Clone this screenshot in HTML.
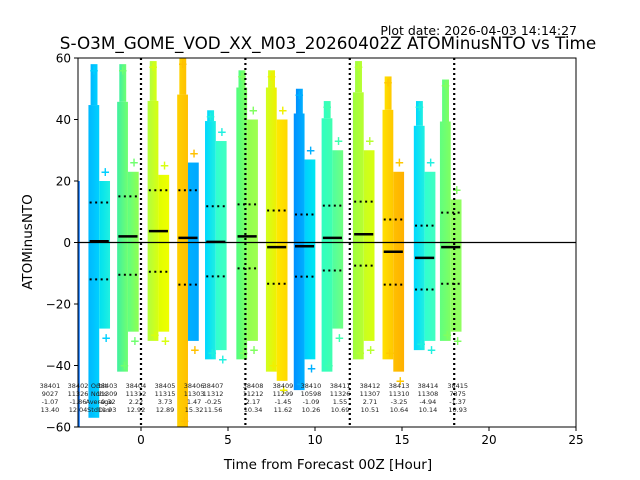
<!DOCTYPE html>
<html><head><meta charset="utf-8">
<style>
body{margin:0;background:#fff;}
svg{display:block;font-family:"DejaVu Sans","Liberation Sans",sans-serif;}
</style></head>
<body>
<svg id="chart" width="640" height="480" viewBox="0 0 640 480" xmlns="http://www.w3.org/2000/svg">
<text x="577" y="35" text-anchor="end" font-size="12.5">Plot date: 2026-04-03 14:14:27</text>
<text x="328" y="49" text-anchor="middle" font-size="16.8">S-O3M_GOME_VOD_XX_M03_20260402Z ATOMinusNTO vs Time</text>
<text x="328" y="469" text-anchor="middle" font-size="13.5">Time from Forecast 00Z [Hour]</text>
<text transform="translate(32,242) rotate(-90)" text-anchor="middle" font-size="13.5">ATOMinusNTO</text>
<defs id="defs"></defs>
<g id="plot"></g>
<g id="axes"></g>
</svg>
<script>
const orbits=["38401","38402","38403","38404","38405","38406","38408","38409","38410","38412","38413","38414","38415"];
const centers=[-2.4,-0.75,1.0,2.7,4.3,6.1,7.8,9.4,11.0,12.8,14.5,16.3,17.8];
const meanLine=[0.4,2.0,3.7,1.5,0.2,2.0,-1.5,-1.2,1.5,2.7,-3.0,-5.0,-1.5];
const upperDot=[13,15,17,17,11.8,12.4,10.4,9.1,12.0,13.3,7.5,5.5,9.7];
const lowerDot=[-12,-10.5,-9.5,-13.7,-11,-8.4,-13.4,-11.1,-9.1,-7.5,-13.7,-15.3,-13.4];
const leftTop=[58,58,59,60,43,56,56,50,46,59,54,46,53];
const leftBot=[-57,-42,-32,-60,-38,-38,-42,-48,-42,-38,-38,-35,-32];
const rightTop=[20,23,22,26,33,40,40,27,30,30,23,23,14];
const rightBot=[-28,-29,-29,-32,-35,-32,-45,-38,-28,-32,-42,-32,-29];
const colL1=["#00b8ff","#40f0a0","#b0ff40","#ffd000","#00d8ff","#50ff80","#d0ff20","#0090ff","#30ffc0","#a0ff40","#ffe000","#00d8ff","#60ff80"];
const colL2=["#00d0ff","#70ff70","#d8ff10","#ffc000","#20f0e0","#80ff60","#f0f000","#00b0ff","#40ffb0","#b8ff30","#ffc800","#20f0e0","#80ff60"];
const colR1=["#00e0f0","#60ff80","#e0ff00","#00b0ff","#30ffd0","#90ff50","#ffe800","#00d0ff","#50ffa0","#c8ff20","#ffc000","#30ffd0","#90ff60"];
const colR2=["#20f0e0","#90ff50","#f0ff00","#00a8ff","#40ffc0","#a0ff50","#ffd800","#00e8f0","#70ff80","#d8ff10","#ffb000","#40ffc0","#90ff60"];
const annOrbit=["38401","38402","38403","38404","38405","38406","38407","38408","38409","38410","38411","38412","38413","38414","38415"];
const annNobs=["9027","11326","11309","11312","11315","11303","11312","11212","11299","10598","11326","11307","11310","11308","7375"];
const annAvg=["-1.07","-1.86","-0.32","2.22","3.73","1.47","-0.25","2.17","-1.45","-1.09","1.55","2.71","-3.25","-4.94","-1.37"];
const annStd=["13.40","12.04","11.93","12.92","12.89","15.32","11.56","10.34","11.62","10.26","10.69","10.51","10.64","10.14","10.93"];
const annPx=[-5.23,-3.62,-1.95,-0.29,1.38,3.05,4.14,6.44,8.16,9.77,11.44,13.16,14.83,16.49,18.2];
const vlines=[0,6,12,18];
const xTicks=[0,5,10,15,20,25];
const yTicks=[-60,-40,-20,0,20,40,60];

const X0=78,X1=576,Y0=58,Y1=427,xmin=-3.62,xmax=25,ymin=-60,ymax=60;
const sx=v=>X0+(v-xmin)/(xmax-xmin)*(X1-X0);
const sy=v=>Y1-(v-ymin)/(ymax-ymin)*(Y1-Y0);
const NS="http://www.w3.org/2000/svg";
const plot=document.getElementById('plot'),axes=document.getElementById('axes'),defs=document.getElementById('defs');
function mk(tag,attrs,parent){const e=document.createElementNS(NS,tag);for(const k in attrs)e.setAttribute(k,attrs[k]);parent.appendChild(e);return e;}
const cp=mk('clipPath',{id:'clip'},defs);mk('rect',{x:X0,y:Y0,width:X1-X0,height:Y1-Y0},cp);
plot.setAttribute('clip-path','url(#clip)');
function grad(id,c1,c2){const g=mk('linearGradient',{id:id,x1:0,x2:1,y1:0,y2:0},defs);mk('stop',{offset:0,'stop-color':c1},g);mk('stop',{offset:1,'stop-color':c2},g);}
const w=0.62;
orbits.forEach((o,i)=>{
  grad('gl'+i,colL1[i],colL2[i]);grad('gr'+i,colR1[i],colR2[i]);
  const c=centers[i];
  // tapered upper part (sparser) and dense main body
  const midTop=leftTop[i]-(leftTop[i]-rightTop[i])*0.35;
  const lt=mk('rect',{x:sx(c-w*0.8),y:sy(leftTop[i]),width:sx(c-0.1)-sx(c-w*0.8),height:sy(midTop)-sy(leftTop[i]),fill:'url(#gl'+i+')'},plot);
  
  
  const l=mk('rect',{x:sx(c-w),y:sy(midTop),width:sx(c)-sx(c-w),height:sy(leftBot[i])-sy(midTop),fill:'url(#gl'+i+')'},plot);
  
  
  const r=mk('rect',{x:sx(c),y:sy(rightTop[i]),width:sx(c+w)-sx(c),height:sy(rightBot[i])-sy(rightTop[i]),fill:'url(#gr'+i+')'},plot);
  
  
  [[c-0.3,leftTop[i]-2],[c+0.35,rightTop[i]+3],[c-0.2,leftBot[i]+2],[c+0.4,rightBot[i]-3]].forEach(p=>{
    const t=mk('text',{x:sx(p[0]),y:sy(p[1])+4,'text-anchor':'middle','font-size':12,'font-weight':'bold',fill:colL2[i]},plot);
    t.textContent='+';
    
    
  });
});
const zl=mk('line',{x1:X0,x2:X1,y1:sy(0),y2:sy(0),stroke:'#000','stroke-width':1.2},axes);


const be=mk('line',{x1:X0+1,x2:X0+1,y1:sy(20),y2:Y1,stroke:'#0070ff','stroke-width':1.5},plot);


vlines.forEach(v=>{
  const l=mk('line',{x1:sx(v),x2:sx(v),y1:Y0,y2:Y1,stroke:'#000','stroke-width':2.2,'stroke-dasharray':'2,3'},axes);
  
  
});
orbits.forEach((o,i)=>{
  const c=centers[i];
  const m=mk('line',{x1:sx(c-0.55),x2:sx(c+0.55),y1:sy(meanLine[i]),y2:sy(meanLine[i]),stroke:'#000','stroke-width':2.5},axes);
  
  
  [upperDot[i],lowerDot[i]].forEach((v,k)=>{
    const d=mk('line',{x1:sx(c-0.55),x2:sx(c+0.55),y1:sy(v),y2:sy(v),stroke:'#000','stroke-width':2,'stroke-dasharray':'2,3.5'},axes);
    
    
  });
});
const rows=[annOrbit,annNobs,annAvg,annStd];
annOrbit.forEach((o,i)=>{
  rows.forEach((arr,r)=>{
    const t=mk('text',{x:sx(annPx[i]),y:388+r*8,'text-anchor':'middle','font-size':6.5,fill:'#222'},axes);
    t.textContent=arr[i];
    
    
  });
});
["Orbit","Nobs","Average","StdDev"].forEach((s,r)=>{
  const t=mk('text',{x:99,y:388+r*8,'text-anchor':'middle','font-size':6.5,fill:'#222'},axes);
  t.textContent=s;
  
  
});
const fr=mk('rect',{x:X0,y:Y0,width:X1-X0,height:Y1-Y0,fill:'none',stroke:'#000','stroke-width':1},axes);


xTicks.forEach(v=>{
  mk('line',{x1:sx(v),x2:sx(v),y1:Y1,y2:Y1+4,stroke:'#000'},axes);
  const t=mk('text',{x:sx(v),y:Y1+17,'text-anchor':'middle','font-size':12},axes);
  t.textContent=v;
  
  
});
yTicks.forEach(v=>{
  mk('line',{x1:X0-4,x2:X0,y1:sy(v),y2:sy(v),stroke:'#000'},axes);
  const t=mk('text',{x:X0-7,y:sy(v)+4.5,'text-anchor':'end','font-size':12},axes);
  t.textContent=v<0?'\u2212'+(-v):v;
  
  
});
</script>
</body></html>
